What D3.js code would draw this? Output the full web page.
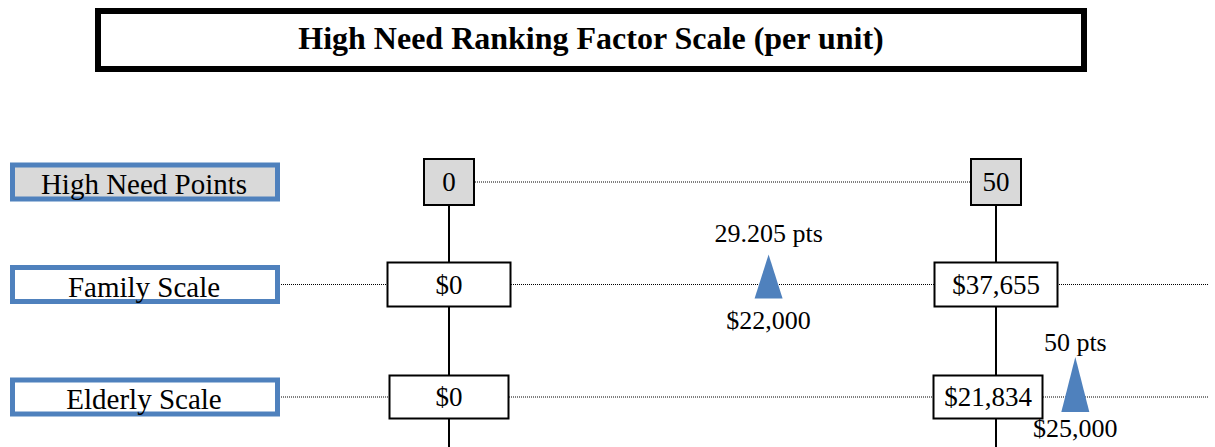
<!DOCTYPE html>
<html>
<head>
<meta charset="utf-8">
<script src="https://cdn.jsdelivr.net/npm/d3@7/dist/d3.min.js"></script>
<style>
  body { margin: 0; background: #fff; }
  text { font-family: "Liberation Serif", "Times New Roman", serif; fill: #000; }
</style>
</head>
<body>
<script>
// chart values
var title = "High Need Ranking Factor Scale (per unit)";
var rowNames = ["High Need Points", "Family Scale", "Elderly Scale"];
var pointTicks = [0, 50];
var familyTicks = [0, 37655];
var elderlyTicks = [0, 21834];
var markerRows = ["Family Scale", "Elderly Scale"];
var markerDollars = [22000, 25000];
var markerPoints = [29.205, 50];

var width = 1215, height = 447;
var blue = "#4f81bd";

var svg = d3.select("body").append("svg")
    .attr("width", width)
    .attr("height", height);

// title box
svg.append("rect")
    .attr("x", 98).attr("y", 11)
    .attr("width", 986).attr("height", 58)
    .attr("fill", "#fff")
    .attr("stroke", "#000")
    .attr("stroke-width", 6);
svg.append("text")
    .attr("x", 591).attr("y", 38)
    .attr("text-anchor", "middle")
    .attr("dominant-baseline", "central")
    .attr("font-size", 32)
    .attr("font-weight", "bold")
    .text(title);

// row positions
var y = d3.scalePoint().domain(rowNames).range([182, 397]);
var yRow = function(name) {
  // family row sits a little higher than the mid point
  return name == "Family Scale" ? y(name) - 5 : y(name);
};

// one scale per row, all anchored on the same two columns
var xCols = [449, 996];
var xScales = {
  "High Need Points": d3.scaleLinear().domain(pointTicks).range(xCols),
  "Family Scale": d3.scaleLinear().domain(familyTicks).range(xCols),
  "Elderly Scale": d3.scaleLinear().domain(elderlyTicks).range(xCols)
};
var tickData = {
  "High Need Points": pointTicks,
  "Family Scale": familyTicks,
  "Elderly Scale": elderlyTicks
};
var fmtDollar = function(v) { return "$" + d3.format(",")(v); };

// vertical connectors through the columns
svg.selectAll(".vline")
    .data(pointTicks)
  .enter().append("line")
    .attr("class", "vline")
    .attr("x1", function(d) { return xScales["High Need Points"](d); })
    .attr("x2", function(d) { return xScales["High Need Points"](d); })
    .attr("y1", yRow("High Need Points"))
    .attr("y2", height)
    .attr("stroke", "#000")
    .attr("stroke-width", 2);

// dotted guide lines
rowNames.forEach(function(name, i) {
  var x = xScales[name];
  var t = tickData[name];
  svg.append("line")
      .attr("x1", i == 0 ? x(t[0]) : 281)
      .attr("x2", i == 0 ? x(t[1]) : 1208)
      .attr("y1", yRow(name))
      .attr("y2", yRow(name))
      .attr("stroke", "#000")
      .attr("stroke-width", 1)
      .attr("stroke-dasharray", "1,1");
});

// row label boxes
var labels = svg.selectAll(".rowlabel")
    .data(rowNames)
  .enter().append("g")
    .attr("class", "rowlabel")
    .attr("transform", function(d) { return "translate(0," + yRow(d) + ")"; });
labels.append("rect")
    .attr("x", 12.5).attr("y", -17)
    .attr("width", 265).attr("height", 34)
    .attr("fill", function(d, i) { return i == 0 ? "#d9d9d9" : "#fff"; })
    .attr("stroke", blue)
    .attr("stroke-width", 5);
labels.append("text")
    .attr("x", 144).attr("y", 2)
    .attr("text-anchor", "middle")
    .attr("dominant-baseline", "central")
    .attr("font-size", 29)
    .text(function(d) { return d; });

// value boxes on each row
var boxSize = {
  "High Need Points": [50, 46],
  "Family Scale": [123, 44],
  "Elderly Scale": [119, 43]
};
rowNames.forEach(function(name, i) {
  var x = xScales[name];
  var g = svg.selectAll(".box" + i)
      .data(tickData[name])
    .enter().append("g")
      .attr("transform", function(d) { return "translate(" + x(d) + "," + yRow(name) + ")"; });
  g.append("rect")
      .attr("x", function(d, j) {
        var w = boxSize[name][0] - (i == 2 && j == 1 ? 10 : 0);
        return -w / 2 - (i == 2 && j == 1 ? 8 : 0);
      })
      .attr("y", -boxSize[name][1] / 2)
      .attr("width", function(d, j) { return boxSize[name][0] - (i == 2 && j == 1 ? 10 : 0); })
      .attr("height", boxSize[name][1])
      .attr("fill", i == 0 ? "#d9d9d9" : "#fff")
      .attr("stroke", "#000")
      .attr("stroke-width", 2);
  g.append("text")
      .attr("x", function(d, j) { return i == 2 && j == 1 ? -8 : 0; })
      .attr("y", 0)
      .attr("text-anchor", "middle")
      .attr("dominant-baseline", "central")
      .attr("font-size", 27)
      .text(function(d) { return i == 0 ? d : fmtDollar(d); });
});

// markers: blue triangles with points above and dollars below
var markers = markerRows.map(function(r, i) {
  return { row: r, dollars: markerDollars[i], pts: markerPoints[i] };
});
var m = svg.selectAll(".marker")
    .data(markers)
  .enter().append("g")
    .attr("class", "marker")
    .attr("transform", function(d) {
      return "translate(" + xScales[d.row](d.dollars) + "," + yRow(d.row) + ")";
    });
m.append("path")
    .attr("d", function(d, i) {
      var top = i == 0 ? -30 : -40, bot = i == 0 ? 14 : 15;
      return "M0," + top + "L14," + bot + "L-14," + bot + "Z";
    })
    .attr("fill", blue);
m.append("text")
    .attr("y", function(d, i) { return i == 0 ? -51 : -55; })
    .attr("text-anchor", "middle")
    .attr("dominant-baseline", "central")
    .attr("font-size", 26)
    .text(function(d) { return d.pts + " pts"; });
m.append("text")
    .attr("y", function(d, i) { return i == 0 ? 36 : 31; })
    .attr("text-anchor", "middle")
    .attr("dominant-baseline", "central")
    .attr("font-size", 26)
    .text(function(d) { return fmtDollar(d.dollars); });
</script>
</body>
</html>
